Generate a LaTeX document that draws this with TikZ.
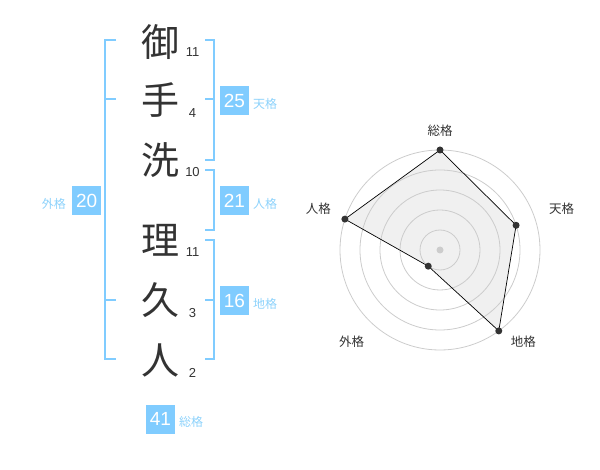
\documentclass[tikz,border=0pt]{standalone}
\usepackage{fontspec}
\setmainfont{Liberation Sans}
\newfontfamily\jp{Noto Sans CJK JP}
\usepackage{tikz}

\definecolor{ink}{HTML}{333333}
\definecolor{sky}{HTML}{80CCFF}
\definecolor{skytext}{HTML}{8DD2FB}
\definecolor{ring}{HTML}{CCCCCC}

\begin{document}
\begin{tikzpicture}[x=1pt, y=-1pt,
    kanji/.style={font=\jp\fontsize{38}{38}\selectfont, text=ink, inner sep=0pt},
    strokes/.style={font=\fontsize{13}{13}\selectfont, text=ink, inner sep=0pt},
    gradebox/.style={fill=sky, text=white, minimum size=29pt, inner sep=0pt, font=\fontsize{19}{19}\selectfont},
    gradename/.style={font=\jp\fontsize{12}{12}\selectfont, text=skytext, inner sep=0pt},
    bracket/.style={draw=sky, line width=2pt},
    axisname/.style={font=\jp\fontsize{12.5}{12.5}\selectfont, text=ink, inner sep=0pt},
    dot/.style={circle, fill=ink, inner sep=0pt, minimum size=7pt}]
                \useasboundingbox (0, 0) rectangle (600, 470);

                % name, one character per row
                \node[kanji] (c1) at (160, 41.7){御};
                \node[kanji] (c2) at (160, 100){手};
                \node[kanji] (c3) at (160, 160){洗};
                \node[kanji] (c4) at (160, 240){理};
                \node[kanji] (c5) at (160, 300){久};
                \node[kanji] (c6) at (160, 360){人};

                \node[strokes] (s1) at (192.5, 52.5){11};
                \node[strokes] (s2) at (192.5, 113){4};
                \node[strokes] (s3) at (192.5, 172.5){10};
                \node[strokes] (s4) at (192.5, 252.5){11};
                \node[strokes] (s5) at (192.5, 313){3};
                \node[strokes] (s6) at (192.5, 373){2};

                % brackets
                \draw[bracket] (116, 40) -- (104.5, 40) -- (104.5, 359.5) -- (116, 359.5);
                \draw[bracket] (104.5, 99.5) -- (116, 99.5);
                \draw[bracket] (104.5, 300) -- (116, 300);

                \draw[bracket] (205, 40) -- (214.3, 40) -- (214.3, 160) -- (205, 160);
                \draw[bracket] (205, 99.5) -- (214.3, 99.5);
                \draw[bracket] (205, 170) -- (214.3, 170) -- (214.3, 230) -- (205, 230);
                \draw[bracket] (205, 240) -- (214.3, 240) -- (214.3, 359.5) -- (205, 359.5);
                \draw[bracket] (205, 300) -- (214.3, 300);

                % grades
                \node[gradebox] (ten) at (234.5, 100.5){25};
                \node[gradename, anchor=west] (tenname) at (253, 104){天格};
                \node[gradebox] (jin) at (234.5, 200.5){21};
                \node[gradename, anchor=west] (jinname) at (253, 204){人格};
                \node[gradebox] (chi) at (234.5, 300.5){16};
                \node[gradename, anchor=west] (chiname) at (253, 304){地格};
                \node[gradebox] (gai) at (86.7, 200.5){20};
                \node[gradename, anchor=east] (gainame) at (66, 204){外格};
                \node[gradebox] (sou) at (160.5, 419){41};
                \node[gradename, anchor=west] (souname) at (179, 422.3){総格};

                % radar chart
                \begin{scope}[shift={(440, 250)}, yscale=-1]
                    \coordinate (pSou) at (90:100);
                    \coordinate (pTen) at (18:80);
                    \coordinate (pChi) at (-54:100);
                    \coordinate (pGai) at (-126:20);
                    \coordinate (pJin) at (162:100);

                    \fill[black!6] (pSou) -- (pTen) -- (pChi) -- (pGai) -- (pJin) -- cycle;
                    \foreach \r in {20, 40, 60, 80, 100}
                        \draw[ring, line width=0.8pt] (0, 0) circle (\r);
                    \fill[ring] (0, 0) circle (3.5);
                    \draw[black, line width=0.7pt] (pSou) -- (pTen) -- (pChi) -- (pGai) -- (pJin) -- cycle;

                    \foreach \p in {pSou, pTen, pChi, pGai, pJin}
                        \node[dot] at (\p){};

                    \node[axisname] (aSou) at (0, 119.3){総格};
                    \node[axisname] (aTen) at (121.7, 41){天格};
                    \node[axisname] (aChi) at (83.3, -92){地格};
                    \node[axisname] (aGai) at (-88.3, -92){外格};
                    \node[axisname] (aJin) at (-121.7, 41){人格};
                \end{scope}
            \end{tikzpicture}
\end{document}
